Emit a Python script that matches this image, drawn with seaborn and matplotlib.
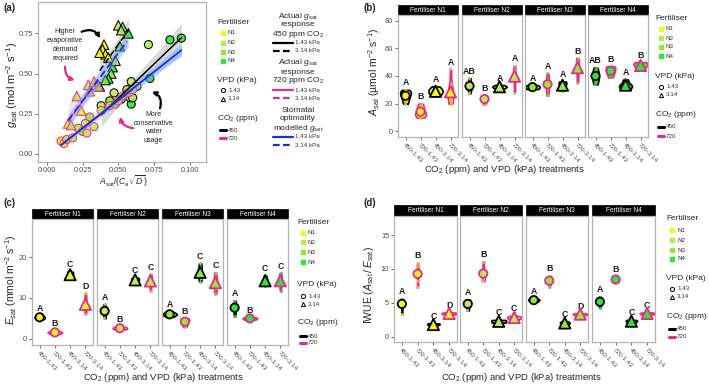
import numpy as np
import pandas as pd
import matplotlib
matplotlib.use("Agg")
import matplotlib.pyplot as plt
from matplotlib.lines import Line2D
from matplotlib.patches import Rectangle
import seaborn as sns

sns.set_style("white")
plt.rcParams["font.family"] = ["Liberation Sans", "DejaVu Sans"]
plt.rcParams["mathtext.fontset"] = "custom"
plt.rcParams["mathtext.rm"] = "Liberation Sans"
plt.rcParams["mathtext.it"] = "Liberation Sans:italic"
plt.rcParams["mathtext.bf"] = "Liberation Sans:bold"

W, H = 709, 384

# ---------------- data ----------------
treatments = ["450-1.43", "720-1.43", "450-3.14", "720-3.14"]
fertilisers = ["N1", "N2", "N3", "N4"]
fert_colours = ["#F4F41E", "#BEE65A", "#8EEA32", "#30E43C"]
dot_colours = ["#EDB443", "#D2B65E", "#98CC42", "#3FC84A"]
co2_colours = {"450": "black", "720": "#E7298A"}
vpd_markers = {"1.43": "o", "3.14": "^"}

# (a) gsat vs Asat/(Ca sqrt D), one list per CO2 x VPD group
a450_143_x = [0.094, 0.086, 0.071, 0.072, 0.059, 0.058, 0.059, 0.063, 0.056, 0.052, 0.047, 0.060, 0.038, 0.044]
a450_143_g = [0.72, 0.71, 0.68, 0.47, 0.31, 0.35, 0.45, 0.42, 0.40, 0.34, 0.38, 0.35, 0.30, 0.33]
a450_143_f = ["N4", "N4", "N2", "N4", "N4", "N3", "N2", "N2", "N2", "N3", "N2", "N2", "N2", "N3"]

a720_143_x = [0.010, 0.012, 0.014, 0.018, 0.022, 0.025, 0.028, 0.027, 0.030, 0.033, 0.038, 0.044, 0.048, 0.050, 0.053, 0.057, 0.060]
a720_143_g = [0.08, 0.065, 0.09, 0.10, 0.16, 0.14, 0.13, 0.19, 0.23, 0.17, 0.27, 0.30, 0.31, 0.33, 0.36, 0.38, 0.40]
a720_143_f = ["N1", "N1", "N2", "N2", "N2", "N3", "N2", "N2", "N3", "N2", "N2", "N2", "N3", "N2", "N2", "N3", "N2"]

a450_314_x = [0.040, 0.039, 0.041, 0.037, 0.043, 0.050, 0.053, 0.052, 0.057, 0.051, 0.046, 0.045, 0.043, 0.041, 0.037, 0.048]
a450_314_g = [0.68, 0.65, 0.62, 0.63, 0.60, 0.80, 0.79, 0.77, 0.75, 0.67, 0.54, 0.50, 0.47, 0.46, 0.42, 0.58]
a450_314_f = ["N1", "N1", "N1", "N1", "N1", "N2", "N3", "N2", "N4", "N3", "N4", "N3", "N4", "N3", "N3", "N2"]

a720_314_x = [0.015, 0.017, 0.021, 0.024, 0.029, 0.030, 0.036, 0.033]
a720_314_g = [0.19, 0.18, 0.36, 0.27, 0.43, 0.39, 0.42, 0.45]
a720_314_f = ["N1", "N2", "N2", "N1", "N2", "N2", "N3", "N2"]

# stomatal optimality modelled gsat
model_x_143 = [0.010, 0.094]
model_g_143 = [0.055, 0.645]
model_lo_143 = [0.045, 0.610]
model_hi_143 = [0.065, 0.685]
model_x_314 = [0.015, 0.056]
model_g_314 = [0.21, 0.70]
model_lo_314 = [0.17, 0.66]
model_hi_314 = [0.25, 0.74]

# (b) Asat observations per fertiliser, one list per treatment
asat_n1 = [[20, 22, 24, 26, 27, 28, 29, 30], [10, 11, 12, 13, 14, 16, 18, 20],
           [25.5, 27, 28, 29, 30, 31, 32.5], [20, 22, 24, 26, 28, 30, 34, 45]]
asat_n2 = [[27.5, 31, 33, 34, 38.5], [19.5, 23, 25, 26], [31, 32, 32.5, 33.5], [28, 40, 44, 47.5]]
asat_n3 = [[30.5, 31.5, 32.5, 33.5], [26, 32, 36, 42], [29.5, 32, 34, 35.5, 36], [35, 46, 50, 53]]
asat_n4 = [[34, 37, 39, 41, 43, 46], [39, 42, 44, 46, 47], [30.5, 32, 33, 34, 37.5], [44.5, 46.5, 48, 49, 50]]
asat_letters = [["A", "B", "A", "A"], ["AB", "B", "A", "A"], ["A", "A", "A", "B"], ["AB", "B", "A", "B"]]

# (c) Esat
esat_n1 = [[4.8, 5.1, 5.4, 5.8], [1.2, 1.4, 1.6, 1.7, 2.0], [14.8, 15.5, 16, 16.5], [6, 7.5, 8.5, 9, 11.2]]
esat_n2 = [[5, 6, 7, 7.5, 8.5], [2.3, 2.5, 2.7, 2.9], [13.8, 14.3, 14.6, 15.0], [11.8, 13.5, 14.5, 15.2, 15.8]]
esat_n3 = [[5.4, 5.8, 6.0, 6.2, 6.6], [3, 3.8, 4.5, 5, 4.7], [14, 15, 16.3, 17.5, 18.5], [11, 12.5, 14, 15, 16.2]]
esat_n4 = [[5.5, 7, 7.8, 8.5, 9.3], [4.7, 4.9, 5.1, 5.3], [13, 13.7, 14.2, 14.6, 15.5], [11.8, 13.5, 14.5, 15.2, 16.0]]
esat_letters = [["A", "B", "C", "D"], ["A", "B", "C", "C"], ["A", "B", "C", "C"], ["A", "B", "C", "C"]]

# (d) IWUE
iwue_n1 = [[3.3, 4.8, 5.2, 5.4, 5.6], [7.3, 8.2, 9.5, 10.5, 10.9], [1.6, 1.8, 1.9, 2.0], [3.3, 3.4, 3.5, 3.6]]
iwue_n2 = [[3.9, 4.6, 5.0, 5.3, 5.5], [8.2, 8.7, 9.0, 9.6, 11.1], [2.1, 2.2, 2.4, 2.5], [2.6, 2.8, 2.9, 3.1]]
iwue_n3 = [[5.2, 5.35, 5.5, 5.6], [7.3, 8.2, 8.6, 9.0], [1.8, 2.0, 2.1, 2.3], [3.2, 3.3, 3.4, 3.5]]
iwue_n4 = [[4.3, 5.1, 5.4, 5.9], [8.1, 8.3, 8.5, 8.9], [2.1, 2.25, 2.4, 2.5], [3.3, 3.4, 3.5, 3.6]]
iwue_letters = [["A", "B", "C", "D"], ["A", "B", "C", "C"], ["A", "B", "C", "D"], ["A", "B", "C", "C"]]

# ---------------- helpers ----------------
fig = plt.figure(figsize=(W / 100, H / 100), dpi=100)
fert_pal = dict(zip(fertilisers, fert_colours))
SPINE = "#B3B3B3"
TXT = "#4D4D4D"


def px_axes(l, t, r, b):
    return fig.add_axes([l / W, 1 - b / H, (r - l) / W, (b - t) / H])


def ftxt(x, y, s, **kw):
    kw.setdefault("va", "center")
    fig.text(x / W, 1 - y / H, s, **kw)


def fline(xs, ys, **kw):
    fig.add_artist(Line2D([x / W for x in xs], [1 - y / H for y in ys],
                          transform=fig.transFigure, **kw))


def style_ax(ax, left=True):
    for s in ax.spines.values():
        s.set_color(SPINE)
        s.set_linewidth(0.9)
    ax.tick_params(bottom=True, left=left, labelleft=left, length=2, width=0.5,
                   color="#333333", labelsize=5.3, labelcolor=TXT, pad=1.5)
    ax.set_xlabel("")
    ax.set_ylabel("")


def side_legend(x, ty, fk, vt, vk, ct, ck):
    ftxt(x, ty, "Fertiliser", fontsize=6)
    for y, f, c in zip(fk, fertilisers, fert_colours):
        fline([x + 5.5], [y], marker="s", ms=3.4, mfc=c, mec=c, ls="none")
        ftxt(x + 11, y, f, fontsize=4.5, color="#333333")
    ftxt(x, vt, "VPD (kPa)", fontsize=6)
    for y, v in zip(vk, ["1.43", "3.14"]):
        fline([x + 5.5], [y], marker=vpd_markers[v], ms=3.0, mfc="none", mec="black",
              mew=0.7, ls="none")
        ftxt(x + 11, y, v, fontsize=4.5, color="#333333")
    ftxt(x, ct, "CO$_2$ (ppm)", fontsize=6)
    for y, c in zip(ck, ["450", "720"]):
        fline([x + 3, x + 8.5], [y, y], color=co2_colours[c], lw=2.2)
        ftxt(x + 11, y, c, fontsize=4.5, color="#333333")


def facet_panel(boxes, strip_top, top, bottom, obs, letters, ylim, yticks):
    for i, fert in enumerate(fertilisers):
        l, r = boxes[i]
        ax = px_axes(l, top, r, bottom)
        rows = [(t, v) for t, vals in zip(treatments, obs[i]) for v in vals]
        df = pd.DataFrame(rows, columns=["trt", "val"])
        sns.violinplot(data=df, x="trt", y="val", order=treatments, color=fert_colours[i],
                       saturation=1, inner=None, cut=0, width=0.95, linewidth=1.2,
                       bw_adjust=0.9, density_norm="area", ax=ax)
        for coll, t in zip(list(ax.collections), treatments):
            coll.set_edgecolor(co2_colours[t[:3]])
        sns.stripplot(data=df, x="trt", y="val", order=treatments, color=dot_colours[i],
                      size=2.2, jitter=0.04, linewidth=0, ax=ax, zorder=4)
        summ = df.groupby("trt")["val"].agg(["mean", "max"]).reindex(treatments).reset_index()
        summ["pos"] = range(len(treatments))
        summ["co2"] = summ["trt"].str[:3]
        summ["vpd"] = summ["trt"].str[4:]
        for co2, sub in summ.groupby("co2"):
            sns.scatterplot(data=sub, x="pos", y="mean", style="vpd", markers=vpd_markers,
                            size="vpd", sizes={"1.43": 36, "3.14": 66},
                            color=fert_colours[i], edgecolor=co2_colours[co2], linewidth=1.3,
                            legend=False, ax=ax, zorder=6)
        pad = 0.02 * (ylim[1] - ylim[0])
        for p, m, let in zip(summ["pos"], summ["max"], letters[i]):
            ax.text(p, m + pad, let, ha="center", va="bottom", fontsize=6.3,
                    fontweight="bold", color="#1A1A1A")
        ax.set_xlim(-0.5, 3.5)
        ax.set_ylim(*ylim)
        ax.set_yticks(yticks)
        ax.set_xticks(range(len(treatments)))
        ax.set_xticklabels(treatments, rotation=-45, ha="left", va="top",
                           rotation_mode="anchor", fontsize=4.6)
        style_ax(ax, left=(i == 0))
        ax.tick_params(axis="x", labelsize=4.6)
        h = (top - strip_top) / (bottom - top)
        ax.add_patch(Rectangle((0, 1), 1, h, transform=ax.transAxes, clip_on=False,
                               facecolor="black", edgecolor="black", lw=0.5))
        ax.text(0.5, 1 + h / 2, f"Fertiliser {fert}", transform=ax.transAxes,
                ha="center", va="center", color="white", fontsize=4.8)


# ---------------- panel (a) ----------------
ax = px_axes(38, 2, 206, 162)
groups = [
    ("450", "1.43", a450_143_x, a450_143_g, a450_143_f),
    ("720", "1.43", a720_143_x, a720_143_g, a720_143_f),
    ("450", "3.14", a450_314_x, a450_314_g, a450_314_f),
    ("720", "3.14", a720_314_x, a720_314_g, a720_314_f),
]
for co2, vpd, xs, gs, fs in groups:
    d = pd.DataFrame({"x": xs, "g": gs, "fert": fs})
    sns.scatterplot(data=d, x="x", y="g", hue="fert", palette=fert_pal,
                    marker=vpd_markers[vpd], s=34 if vpd == "1.43" else 48,
                    edgecolor=co2_colours[co2], linewidth=0.8, alpha=0.92,
                    legend=False, ax=ax, zorder=3)
for co2, vpd, xs, gs, fs in groups:
    sns.regplot(x=np.array(xs), y=np.array(gs), scatter=False, ci=95, color="0.55",
                truncate=True, ax=ax,
                line_kws=dict(color=co2_colours[co2], lw=1.1,
                              ls="-" if vpd == "1.43" else (0, (4, 2)), zorder=5))
ax.fill_between(model_x_143, model_lo_143, model_hi_143, color="#6FA8FF", alpha=0.45,
                lw=0, zorder=4)
ax.fill_between(model_x_314, model_lo_314, model_hi_314, color="#6FA8FF", alpha=0.45,
                lw=0, zorder=4)
sns.lineplot(x=model_x_143, y=model_g_143, color="#1F2FD6", lw=1.3, ax=ax, zorder=6)
sns.lineplot(x=model_x_314, y=model_g_314, color="#1F2FD6", lw=1.3, ls=(0, (4, 2)),
             ax=ax, zorder=6)
ax.set_xlim(-0.0061, 0.1112)
ax.set_ylim(-0.05, 0.945)
ax.set_xticks([0, 0.025, 0.05, 0.075, 0.1])
ax.set_xticklabels(["0.000", "0.025", "0.050", "0.075", "0.100"])
ax.set_yticks([0, 0.25, 0.5, 0.75])
ax.set_yticklabels(["0.00", "0.25", "0.50", "0.75"])
style_ax(ax)
ax.text(0.0128, 0.677, "Higher\nevaporative\ndemand\nrequired", ha="center", va="center",
        fontsize=5, linespacing=1.35, color="#222222")
ax.text(0.0743, 0.165, "More\nconservative\nwater\nusage", ha="center", va="center",
        fontsize=5, linespacing=1.35, color="#222222")
arrow = dict(arrowstyle="-|>", lw=1.6, mutation_scale=6, shrinkA=0, shrinkB=0)
ax.annotate("", xy=(0.0372, 0.719), xytext=(0.0244, 0.760),
            arrowprops=dict(arrow, color="black", connectionstyle="arc3,rad=-0.45"))
ax.annotate("", xy=(0.0197, 0.46), xytext=(0.0128, 0.543),
            arrowprops=dict(arrow, color="#E7298A", connectionstyle="arc3,rad=0.4"))
ax.annotate("", xy=(0.0733, 0.387), xytext=(0.0791, 0.284),
            arrowprops=dict(arrow, color="black", connectionstyle="arc3,rad=0.45"))
ax.annotate("", xy=(0.0512, 0.232), xytext=(0.0604, 0.16),
            arrowprops=dict(arrow, color="#E7298A", connectionstyle="arc3,rad=-0.35"))

ftxt(3, 8, "(a)", fontsize=7, fontweight="bold")
ftxt(12, 85, r"$g_{\mathrm{sat}}\ (\mathrm{mol\ m^{-2}\ s^{-1}})$", fontsize=8,
     rotation=90, ha="center")
ftxt(123, 181, r"$A_{\mathrm{sat}}/(C_{\mathrm{a}}\sqrt{D})$", fontsize=6.2, ha="center")
side_legend(217, 23, [33, 43, 52, 61], 80, [90, 99], 118, [130, 138])

# right-hand line legend of (a)
for ty, title, c in [(16, ["Actual $g_{\\mathrm{sat}}$", "response", "450 ppm CO$_2$"], "450"),
                     (63, ["Actual $g_{\\mathrm{sat}}$", "response", "720 ppm CO$_2$"], "720"),
                     (110, ["Stomatal", "optimality", "modelled $g_{\\mathrm{sat}}$"], "model")]:
    for k, s in enumerate(title):
        ftxt(298, ty + 9 * k, s, fontsize=6, ha="center")
    col = "#1F2FD6" if c == "model" else co2_colours[c]
    for k, (ls, lab) in enumerate([("-", "1.43 kPa"), ((0, (3, 1.5)), "3.14 kPa")]):
        y = ty + 27 + 8 * k
        fline([273, 293], [y, y], color=col, lw=1.6, ls=ls)
        ftxt(295, y, lab, fontsize=4.5, color="#333333")

# ---------------- panel (b) ----------------
facet_panel([(398, 458), (462, 522), (525, 585), (588, 648)], 5, 15, 137,
            [asat_n1, asat_n2, asat_n3, asat_n4], asat_letters, (-4, 84), [0, 20, 40, 60, 80])
ftxt(363, 8, "(b)", fontsize=7, fontweight="bold")
ftxt(374, 72, r"$A_{\mathrm{sat}}\ (\mathrm{µmol\ m^{-2}\ s^{-1}})$", fontsize=7.5,
     rotation=90, ha="center")
ftxt(505, 170, "CO$_2$ (ppm) and VPD (kPa) treatments", fontsize=6.8, ha="center")
side_legend(655, 18, [29, 38, 47, 56], 76, [87, 95], 115, [127, 136])

# ---------------- panel (c) ----------------
facet_panel([(32, 93), (97, 158), (162, 223), (227, 288)], 209, 219, 345,
            [esat_n1, esat_n2, esat_n3, esat_n4], esat_letters, (-1.5, 29.3), [0, 10, 20])
ftxt(3, 203, "(c)", fontsize=7, fontweight="bold")
ftxt(11, 280, r"$E_{\mathrm{sat}}\ (\mathrm{mmol\ m^{-2}\ s^{-1}})$", fontsize=7.5,
     rotation=90, ha="center")
ftxt(164, 377, "CO$_2$ (ppm) and VPD (kPa) treatments", fontsize=6.8, ha="center")
side_legend(297, 222, [233, 242, 252, 262], 284, [296, 304], 323, [336, 343])

# ---------------- panel (d) ----------------
facet_panel([(394, 457), (460, 522), (526, 588), (592, 655)], 205, 216, 342,
            [iwue_n1, iwue_n2, iwue_n3, iwue_n4], iwue_letters, (-0.75, 17.8), [0, 5, 10, 15])
ftxt(363, 203, "(d)", fontsize=7, fontweight="bold")
ftxt(369, 285, r"IWUE $(A_{\mathrm{sat}}\,/\,E_{\mathrm{sat}})$", fontsize=7.5,
     rotation=90, ha="center")
ftxt(522, 377, "CO$_2$ (ppm) and VPD (kPa) treatments", fontsize=6.8, ha="center")
side_legend(666, 218, [230, 240, 250, 259], 278, [289, 297], 316, [329, 337])

fig.savefig("out.png", dpi=100)
